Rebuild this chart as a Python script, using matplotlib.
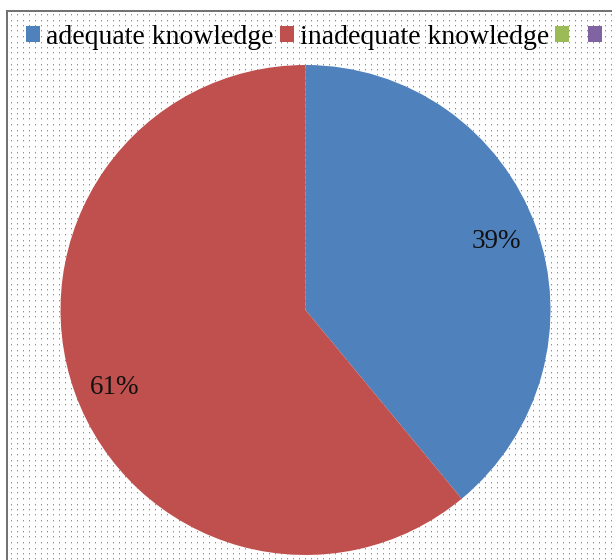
import numpy as np
import matplotlib
matplotlib.use("Agg")
import matplotlib.pyplot as plt
from matplotlib.patches import Patch

# Knowledge level shares (the last two legend series are unnamed)
categories = ["adequate knowledge", "inadequate knowledge", " ", " "]
shares = [39, 61]
colors = ["#4F81BD", "#C0504D", "#9BBB59", "#8064A2"]

W, H, DPI = 612, 560, 100
fig = plt.figure(figsize=(W / DPI, H / DPI), dpi=DPI)

# Dotted chart-area background with a thin grey frame
bg = np.ones((H, W, 3))
x0, y0 = 6, 10
dot = np.array([0.42, 0.58, 0.86])
for yy in np.arange(y0 + 4, H, 5.5):
    r = int(round(yy))
    for xx in range(x0 + 5, W, 6):
        bg[r, xx] = dot
        if r + 1 < H:
            bg[r + 1, xx] = 0.4 * dot + 0.6
bg[y0:y0 + 2, x0:] = 0.45
bg[y0:, x0:x0 + 2] = 0.45
fig.figimage(bg[::-1], xo=0, yo=0, origin="lower", zorder=0)

# Pie
cx, cy, rad = 305.5, H - 310, 245
ax = fig.add_axes([(cx - rad) / W, (cy - rad) / H, 2 * rad / W, 2 * rad / H])
ax.set_zorder(2)
ax.set_facecolor("none")
wedges, texts, autotexts = ax.pie(
    shares, colors=colors[:2], startangle=90, counterclock=False,
    autopct="%d%%", pctdistance=0.84, radius=1,
    textprops=dict(family="Liberation Serif", fontsize=19.5, color="#111111"),
)
# nudge the percentage labels slightly
autotexts[0].set_position((autotexts[0].get_position()[0] - 0.01,
                           autotexts[0].get_position()[1] - 0.005))
autotexts[1].set_position((autotexts[1].get_position()[0] + 0.01,
                           autotexts[1].get_position()[1] - 0.03))
ax.set_xlim(-1, 1)
ax.set_ylim(-1, 1)
ax.set_aspect("equal")
ax.axis("off")

handles = [Patch(facecolor=c, edgecolor="none") for c in colors]
leg = fig.legend(handles, categories, loc="center left",
                 bbox_to_anchor=(26 / W, 1 - 37 / H),
                 ncol=4, frameon=False, handlelength=0.5, handleheight=0.5,
                 handletextpad=0.22, columnspacing=0.22, borderpad=0, borderaxespad=0,
                 prop=dict(family="Liberation Serif", size=20))
leg.set_zorder(3)

fig.savefig("out.png", dpi=DPI)
